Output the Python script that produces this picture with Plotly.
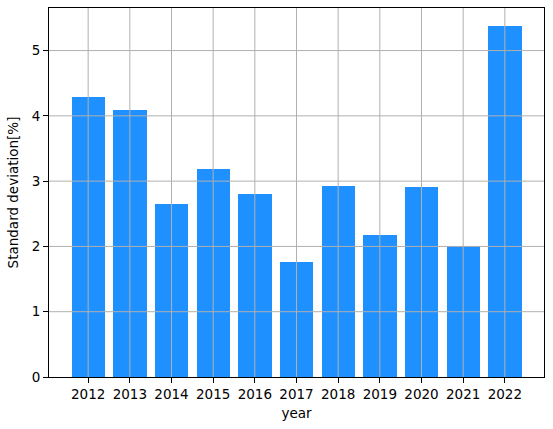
import plotly.graph_objects as go

years = [2012, 2013, 2014, 2015, 2016, 2017, 2018, 2019, 2020, 2021, 2022]
std_dev = [4.29, 4.09, 2.65, 3.19, 2.81, 1.76, 2.93, 2.18, 2.91, 2.01, 5.38]
y_ticks = [0, 1, 2, 3, 4, 5]

fig = go.Figure(go.Bar(x=years, y=std_dev, width=0.8, marker=dict(color="#1E90FF", line=dict(width=0))))

grid_color = "#b0b0b0"
# grid lines drawn above bars (as in the reference)
for yr in years:
    fig.add_shape(type="line", xref="x", yref="paper", x0=yr, x1=yr, y0=0, y1=1,
                  line=dict(color=grid_color, width=1), layer="above")
for t in y_ticks[1:]:
    fig.add_shape(type="line", xref="paper", yref="y", x0=0, x1=1, y0=t, y1=t,
                  line=dict(color=grid_color, width=1), layer="above")

font = dict(family="DejaVu Sans", size=13.5, color="black")
axis_common = dict(
    showline=True, linecolor="black", linewidth=1, mirror=True,
    ticks="outside", ticklen=5, tickwidth=1, tickcolor="black",
    showgrid=False, zeroline=False, layer="above traces", tickfont=font,
)
fig.update_layout(
    width=553, height=429,
    margin=dict(l=49, r=9, t=8, b=52),
    paper_bgcolor="white", plot_bgcolor="white",
    showlegend=False, bargap=0,
    xaxis=dict(range=[2011.06, 2022.94], tickvals=years, ticktext=[str(y) for y in years],
               title=dict(text="year", font=font, standoff=7), **axis_common),
    yaxis=dict(range=[0, 5.652], tickvals=y_ticks,
               title=dict(text="Standard deviation[%]", font=font, standoff=9), **axis_common),
)
fig.write_html("out.html", config={"displayModeBar": False},
               post_script="document.body.style.margin='0';document.body.style.overflow='hidden';")
